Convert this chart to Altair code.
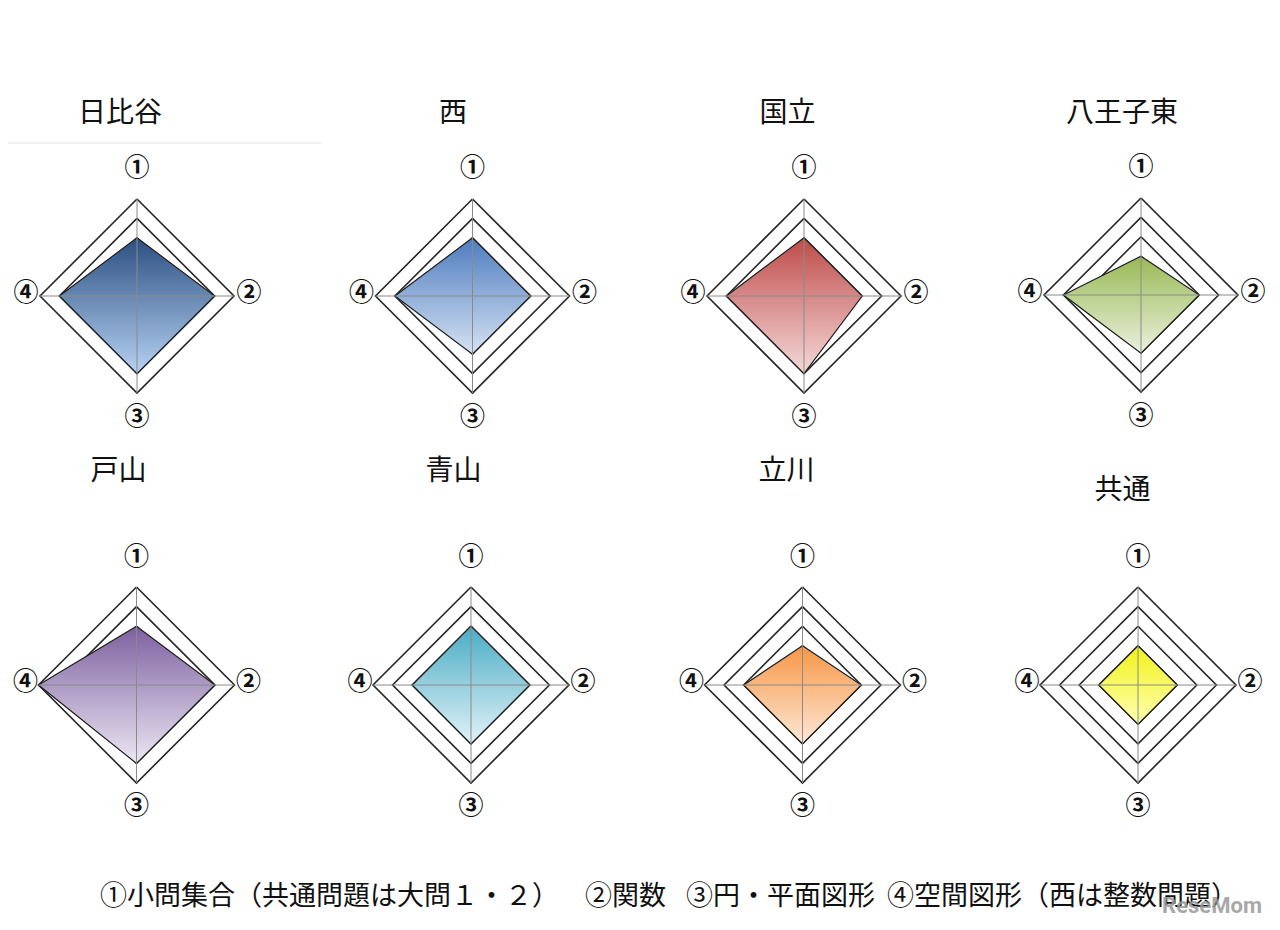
import altair as alt
import pandas as pd

# ---------------- data ----------------
schools = ["日比谷", "西", "国立", "八王子東", "戸山", "青山", "立川", "共通"]
axis_labels = ["①", "②", "③", "④"]
# score level (% of full scale) on each axis
val_1 = [60, 60, 60, 40, 60, 60, 40, 40]   # ① 小問集合
val_2 = [80, 60, 60, 60, 80, 60, 60, 40]   # ② 関数
val_3 = [80, 60, 80, 60, 80, 60, 60, 40]   # ③ 円・平面図形
val_4 = [80, 80, 80, 80, 100, 60, 60, 40]  # ④ 空間図形
ring_levels = [20, 40, 60, 80, 100]
top_colors = ["#2c4f82", "#4d7cbf", "#be4b48", "#98b954", "#7d60a0", "#4aacc5", "#f79646", "#f2f21a"]
bottom_colors = ["#b6d2f3", "#d6e2f2", "#f4dada", "#ebf1df", "#ece7f3", "#e2f2f7", "#fde9d8", "#ffffb3"]
footer_items = ["①小問集合（共通問題は大問１・２）", "②関数", "③円・平面図形", "④空間図形（西は整数問題）"]

# ---------------- layout (pixel positions) ----------------
cx = [137, 472.5, 804, 1141, 136.5, 471, 802.5, 1138]
cy = [296, 296, 296, 295, 685, 685, 685, 685]
rad = [97, 97, 97, 97, 98, 98, 98, 98]
title_x = [120, 453, 787.5, 1122, 118.5, 453.5, 786.5, 1122.5]
title_y = [114, 114, 114, 114, 472, 472, 472, 491]
label_off = [(0, -128), (112, -3), (0, 121), (-111, -3)]
footer_x = [100, 585, 686, 887]
footer_y = 897
FONT = "Noto Sans CJK JP"

dirs = [(0, -1), (1, 0), (0, 1), (-1, 0)]

X = lambda f="x": alt.X(f"{f}:Q", scale=alt.Scale(domain=[8, 1272], nice=False, zero=False), axis=None)
Y = lambda f="y": alt.Y(f"{f}:Q", scale=alt.Scale(domain=[8, 922], nice=False, zero=False, reverse=True), axis=None)

# rings
ring_rows = []
for i, s in enumerate(schools):
    for lv in ring_levels:
        r = rad[i] * lv / 100
        for k, (dx, dy) in enumerate(dirs + [dirs[0]]):
            ring_rows.append({"key": f"{s}-{lv}", "o": k, "x": cx[i] + dx * r, "y": cy[i] + dy * r})
rings = alt.Chart(pd.DataFrame(ring_rows)).mark_line(stroke="#262626", strokeWidth=1.6).encode(
    x=X(), y=Y(), detail="key:N", order="o:Q")

# polygons (one layer per school for its own gradient)
poly_layers = []
for i, s in enumerate(schools):
    R = rad[i]
    df = pd.DataFrame({
        "x": [cx[i] - val_4[i] / 100 * R, cx[i], cx[i] + val_2[i] / 100 * R],
        "y": [cy[i], cy[i] - val_1[i] / 100 * R, cy[i]],
        "y2": [cy[i], cy[i] + val_3[i] / 100 * R, cy[i]],
    })
    grad = alt.Gradient(gradient="linear",
                        stops=[alt.GradientStop(color=top_colors[i], offset=0),
                               alt.GradientStop(color=bottom_colors[i], offset=1)],
                        x1=0, x2=0, y1=0, y2=1)
    poly_layers.append(alt.Chart(df).mark_area(fill=grad, stroke="#1e1e1e", strokeWidth=1.2,
                                                interpolate="linear").encode(
        x=X(), y=Y(), y2="y2:Q"))

# spokes
spoke_rows = []
for i, s in enumerate(schools):
    R = rad[i]
    spoke_rows.append({"x": cx[i], "y": cy[i] - R, "x2": cx[i], "y2": cy[i] + R})
    spoke_rows.append({"x": cx[i] - R, "y": cy[i], "x2": cx[i] + R, "y2": cy[i]})
spokes = alt.Chart(pd.DataFrame(spoke_rows)).mark_rule(stroke="#8a8a8a", strokeWidth=1).encode(
    x=X(), y=Y(), x2="x2:Q", y2="y2:Q")

# axis labels
lab_rows = []
for i, s in enumerate(schools):
    for k, lab in enumerate(axis_labels):
        lab_rows.append({"x": cx[i] + label_off[k][0], "y": cy[i] + label_off[k][1], "t": lab})
labels = alt.Chart(pd.DataFrame(lab_rows)).mark_text(
    font=FONT, fontSize=25, fontWeight="bold", color="#111", align="center", baseline="middle").encode(
    x=X(), y=Y(), text="t:N")

# titles
titles = alt.Chart(pd.DataFrame({"x": title_x, "y": title_y, "t": schools})).mark_text(
    font=FONT, fontSize=28, color="#111", align="center", baseline="middle").encode(
    x=X(), y=Y(), text="t:N")

# faint separator under first title
sep = alt.Chart(pd.DataFrame({"x": [8], "x2": [322], "y": [143]})).mark_rule(
    stroke="#e6e6e6", strokeWidth=1.2).encode(x=X(), x2="x2:Q", y=Y())

# footer
footer = alt.Chart(pd.DataFrame({"x": footer_x, "y": [footer_y] * 4, "t": footer_items})).mark_text(
    font=FONT, fontSize=27, color="#111", align="left", baseline="middle").encode(
    x=X(), y=Y(), text="t:N")

# watermark
wm = alt.Chart(pd.DataFrame({"x": [1212], "y": [906], "t": ["ReseMom"]})).mark_text(
    font="Roboto", fontSize=22, fontWeight="bold", color="#9a9a9a", opacity=0.85,
    align="center", baseline="middle").encode(x=X(), y=Y(), text="t:N")

chart = alt.layer(rings, *poly_layers, spokes, labels, titles, sep, footer, wm).properties(
    width=1264, height=914, padding=0, background="white",
    autosize=alt.AutoSizeParams(type="none")
).configure_view(stroke=None)

chart.save("out.html", embed_options={"renderer": "svg", "actions": False})
